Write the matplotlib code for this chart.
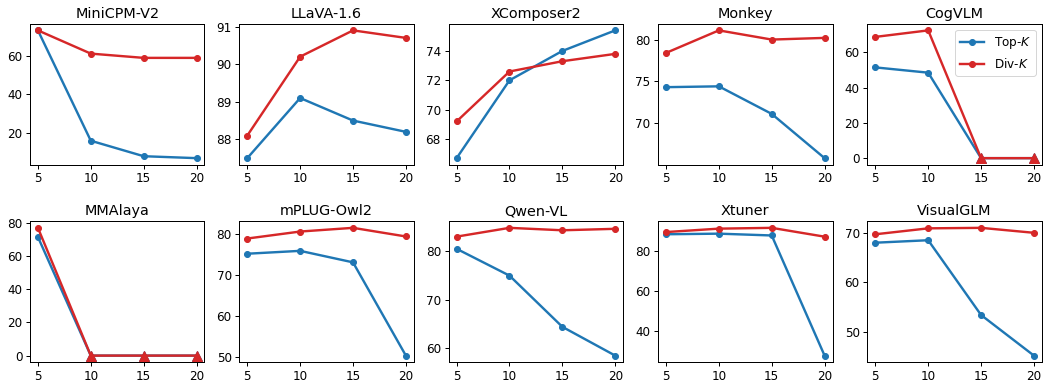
import matplotlib
matplotlib.use("Agg")
import matplotlib.pyplot as plt
import numpy as np

ks = [5, 10, 15, 20]
models = ["MiniCPM-V2", "LLaVA-1.6", "XComposer2", "Monkey", "CogVLM",
          "MMAlaya", "mPLUG-Owl2", "Qwen-VL", "Xtuner", "VisualGLM"]
top_k = [
    [73.0, 16.0, 8.0, 7.0],
    [87.5, 89.1, 88.5, 88.2],
    [66.7, 72.0, 74.0, 75.4],
    [74.3, 74.4, 71.1, 65.8],
    [51.5, 48.5, 0.0, 0.0],
    [71.5, 0.0, 0.0, 0.0],
    [75.2, 75.9, 73.1, 50.4],
    [80.4, 74.9, 64.4, 58.5],
    [88.2, 88.5, 87.6, 27.7],
    [68.0, 68.5, 53.4, 45.2],
]
div_k = [
    [73.0, 61.0, 58.8, 58.8],
    [88.1, 90.2, 90.9, 90.7],
    [69.2, 72.6, 73.3, 73.8],
    [78.4, 81.1, 80.0, 80.2],
    [68.8, 72.5, 0.0, 0.0],
    [77.0, 0.0, 0.0, 0.0],
    [78.9, 80.6, 81.5, 79.4],
    [82.9, 84.7, 84.2, 84.5],
    [89.3, 91.0, 91.4, 87.0],
    [69.7, 70.9, 71.0, 70.0],
]
y_ticks = [
    [20, 40, 60],
    [88, 89, 90, 91],
    [68, 70, 72, 74],
    [70, 75, 80],
    [0, 20, 40, 60],
    [0, 20, 40, 60, 80],
    [50, 60, 70, 80],
    [60, 70, 80],
    [40, 60, 80],
    [50, 60, 70],
]

blue = "#1f77b4"
red = "#d62728"

dpi = 72
fig, axes = plt.subplots(2, 5, figsize=(1045 / dpi, 387 / dpi), dpi=dpi)
fig.subplots_adjust(left=0.0287, right=0.997, top=0.938, bottom=0.0646,
                    wspace=0.2, hspace=0.405)

for ax, name, t, d, yt in zip(axes.flat, models, top_k, div_k, y_ticks):
    for vals, col, lab in ((t, blue, "Top-$K$"), (d, red, "Div-$K$")):
        vals = np.array(vals)
        x = np.array(ks)
        ax.plot(x, vals, color=col, lw=2.4, marker="o", ms=6,
                markevery=list(np.where(vals != 0)[0]), label=lab)
        z = vals == 0
        if z.any():
            ax.plot(x[z], vals[z], ls="none", marker="^", ms=9.5, color=col)
    ax.set_title(name, fontsize=14.4)
    ax.set_xticks(ks)
    ax.set_yticks(yt)
    ax.tick_params(labelsize=12, length=4.2, width=1)
    for s in ax.spines.values():
        s.set_linewidth(1)

axes[0, 4].legend(loc="upper right", fontsize=12)

fig.savefig("out.png", dpi=dpi)
